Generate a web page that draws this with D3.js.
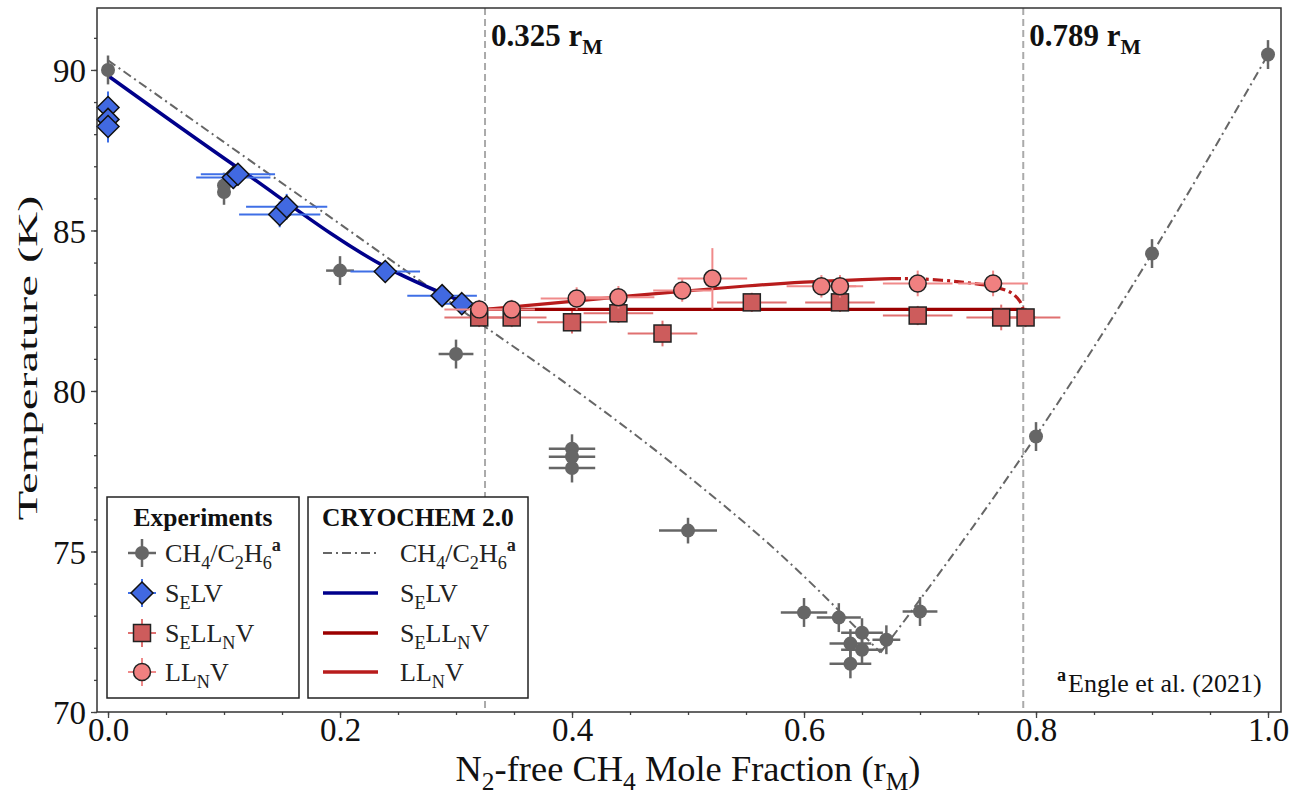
<!DOCTYPE html>
<html>
<head>
<meta charset="utf-8">
<script src="https://cdn.jsdelivr.net/npm/d3@7"></script>
<style>
  body { margin: 0; background: #fff; }
  svg { font-family: "Liberation Serif", "Times New Roman", serif; }
</style>
</head>
<body>
<svg width="1301" height="796"></svg>
<script>
// experimental points: [x, T, xerr, Terr]
const grayPts = [
  [0.0, 90.0, 0, 0.45], [0.1, 86.4, 0, 0.4], [0.1, 86.2, 0, 0.4],
  [0.2, 83.75, 0.012, 0.45], [0.3, 81.15, 0.015, 0.45],
  [0.4, 78.2, 0.02, 0.45], [0.4, 77.95, 0.02, 0.45], [0.4, 77.6, 0.02, 0.45],
  [0.5, 75.65, 0.025, 0.4], [0.6, 73.1, 0.02, 0.45], [0.63, 72.94, 0.019, 0.45],
  [0.65, 72.47, 0.018, 0.45], [0.64, 72.13, 0.018, 0.45], [0.65, 71.94, 0.018, 0.45],
  [0.671, 72.25, 0.012, 0.45], [0.64, 71.5, 0.018, 0.45], [0.70, 73.13, 0.015, 0.45],
  [0.8, 78.58, 0.005, 0.45], [0.9, 84.28, 0, 0.45], [1.0, 90.48, 0, 0.45]
];
const selvPts = [
  [0.0, 88.83, 0, 0.5], [0.0, 88.46, 0, 0.5], [0.0, 88.24, 0, 0.5],
  [0.108, 86.65, 0.032, 0.35], [0.112, 86.75, 0.032, 0.35],
  [0.148, 85.5, 0.035, 0.4], [0.154, 85.74, 0.035, 0.4],
  [0.239, 83.72, 0.03, 0.3], [0.288, 82.97, 0.03, 0.2], [0.305, 82.72, 0.02, 0.2]
];
const sellnvPts = [
  [0.320, 82.29, 0.03, 0.3], [0.348, 82.29, 0.03, 0.3], [0.40, 82.14, 0.03, 0.35],
  [0.44, 82.42, 0.03, 0.3], [0.478, 81.79, 0.03, 0.4], [0.555, 82.76, 0.03, 0.3],
  [0.631, 82.76, 0.03, 0.3], [0.698, 82.35, 0.03, 0.3], [0.770, 82.29, 0.03, 0.4],
  [0.791, 82.29, 0.03, 0.3]
];
const llnvPts = [
  [0.320, 82.54, 0.03, 0.3], [0.348, 82.54, 0.02, 0.3], [0.404, 82.88, 0.031, 0.35],
  [0.44, 82.92, 0.031, 0.35], [0.495, 83.13, 0.025, 0.35], [0.521, 83.5, 0.03, 0.95],
  [0.615, 83.26, 0.03, 0.35], [0.631, 83.26, 0.02, 0.35], [0.698, 83.35, 0.03, 0.4],
  [0.763, 83.35, 0.03, 0.4]
];

// CRYOCHEM 2.0 model curves
const grayLineLeft = [[0, 90.3], [0.1, 87.75], [0.2, 85.2], [0.325, 82.0], [0.39, 80.36], [0.493, 77.55], [0.58, 74.9], [0.666, 71.85]];
const grayLineRight = [[0.666, 71.85], [0.7, 73.5], [0.8, 78.6], [0.9, 84.28], [1.0, 90.48]];
const selvLine = [[0, 89.82], [0.11, 87.0], [0.24, 83.85], [0.325, 82.5]];
const sellnvLine = [[0.325, 82.54], [0.789, 82.54]];
const llnvLine = [[0.325, 82.54], [0.36, 82.66], [0.40, 82.79], [0.45, 82.96], [0.50, 83.12], [0.55, 83.27], [0.60, 83.39], [0.65, 83.47], [0.675, 83.5]];
const llnvMeta = [[0.675, 83.5], [0.70, 83.49], [0.734, 83.4], [0.763, 83.25], [0.778, 83.07], [0.786, 82.8], [0.789, 82.54]];

const markLines = [0.325, 0.789];
const xTicks = [0, 0.2, 0.4, 0.6, 0.8, 1.0];
const yTicks = [70, 75, 80, 85, 90];

var svg = d3.select('svg');

// plot frame in pixels
let pL = 97, pR = 1281, pT = 8, pB = 712;

let x = d3.scaleLinear().domain([-0.0095, 1.0112]).range([pL, pR]);
let y = d3.scaleLinear().domain([70, 91.93]).range([pB, pT]);

// writes text made of normal / sub / sup pieces
function rich(t, parts, size) {
    let shift = 0;
    parts.forEach(function(p) {
        let ts = t.append('tspan').text(p[0]);
        let kind = p[1] || 'n';
        let target = 0;
        if (kind == 'sub') target = 0.26 * size;
        if (kind == 'sup' || kind == 'supb') target = -0.42 * size;
        if (kind != 'n') ts.attr('font-size', size * 0.7);
        if (kind == 'supb') ts.attr('font-weight', 'bold');
        ts.attr('dy', target - shift);
        shift = target;
    });
    return t;
}

// vertical reference lines
svg.append('g').selectAll('line').data(markLines).enter().append('line')
    .attr('x1', d => x(d)).attr('x2', d => x(d))
    .attr('y1', pT).attr('y2', pB)
    .attr('stroke', '#aaa').attr('stroke-width', 2).attr('stroke-dasharray', '7,4');

// model lines
let line = d3.line().x(d => x(d[0])).y(d => y(d[1])).curve(d3.curveMonotoneX);
let dashDot = '9,4,2,4';
[grayLineLeft, grayLineRight].forEach(function(arr) {
    svg.append('path').attr('d', line(arr)).attr('fill', 'none')
        .attr('stroke', '#666').attr('stroke-width', 2).attr('stroke-dasharray', dashDot);
});
svg.append('path').attr('d', line(selvLine)).attr('fill', 'none')
    .attr('stroke', '#00008b').attr('stroke-width', 3.5);
svg.append('path').attr('d', line(sellnvLine)).attr('fill', 'none')
    .attr('stroke', '#9b0000').attr('stroke-width', 3.2);
svg.append('path').attr('d', line(llnvLine)).attr('fill', 'none')
    .attr('stroke', '#b81c1c').attr('stroke-width', 3.2);
svg.append('path').attr('d', d3.line().x(d => x(d[0])).y(d => y(d[1])).curve(d3.curveCatmullRom)(llnvMeta))
    .attr('fill', 'none').attr('stroke', '#b81c1c').attr('stroke-width', 3.2)
    .attr('stroke-dasharray', '10,4,3,4');

// error bars
function errBars(data, color, width) {
    let g = svg.append('g').attr('stroke', color).attr('stroke-width', width);
    data.forEach(function(d) {
        if (d[2] > 0) {
            g.append('line').attr('x1', x(d[0] - d[2])).attr('x2', x(d[0] + d[2]))
                .attr('y1', y(d[1])).attr('y2', y(d[1]));
        }
        if (d[3] > 0) {
            g.append('line').attr('x1', x(d[0])).attr('x2', x(d[0]))
                .attr('y1', y(d[1] - d[3])).attr('y2', y(d[1] + d[3]));
        }
    });
}

let diamond = 'M0,-11L11,0L0,11L-11,0Z';

function drawGray(g, cx, cy) {
    g.append('circle').attr('cx', cx).attr('cy', cy).attr('r', 7).attr('fill', '#666');
}
function drawDiamond(g, cx, cy) {
    g.append('path').attr('d', diamond).attr('transform', 'translate(' + cx + ',' + cy + ')')
        .attr('fill', '#4169e1').attr('stroke', '#111').attr('stroke-width', 1.5);
}
function drawSquare(g, cx, cy) {
    g.append('rect').attr('x', cx - 8.5).attr('y', cy - 8.5).attr('width', 17).attr('height', 17)
        .attr('fill', '#cd5c5c').attr('stroke', '#222').attr('stroke-width', 1.5);
}
function drawCircle(g, cx, cy) {
    g.append('circle').attr('cx', cx).attr('cy', cy).attr('r', 8.5)
        .attr('fill', '#f08080').attr('stroke', '#222').attr('stroke-width', 1.5);
}

let series = [
    {data: grayPts, color: '#666', w: 2.5, draw: drawGray},
    {data: selvPts, color: '#3f6fe6', w: 2, draw: drawDiamond},
    {data: sellnvPts, color: '#e07070', w: 2, draw: drawSquare},
    {data: llnvPts, color: '#f08a8a', w: 2, draw: drawCircle}
];
series.forEach(function(s) {
    errBars(s.data, s.color, s.w);
    let g = svg.append('g');
    s.data.forEach(d => s.draw(g, x(d[0]), y(d[1])));
});

// axes
let axisFont = 33;
let xAxis = svg.append('g').attr('transform', 'translate(0,' + pB + ')')
    .call(d3.axisBottom(x).tickValues(xTicks).tickFormat(d3.format('.1f')).tickSize(6).tickPadding(2));
svg.append('g').attr('transform', 'translate(0,' + pB + ')')
    .call(d3.axisBottom(x).tickValues(d3.range(0, 1.0001, 0.05)).tickFormat('').tickSize(3));
let yAxis = svg.append('g').attr('transform', 'translate(' + pL + ',0)')
    .call(d3.axisLeft(y).tickValues(yTicks).tickSize(6).tickPadding(5));
svg.append('g').attr('transform', 'translate(' + pL + ',0)')
    .call(d3.axisLeft(y).tickValues(d3.range(70, 92, 1)).tickFormat('').tickSize(3));
svg.selectAll('.domain').remove();
svg.selectAll('.tick line').attr('stroke', '#444').attr('stroke-width', 1.3);
svg.selectAll('.tick text').attr('font-family', '"Liberation Serif", serif')
    .attr('font-size', axisFont).attr('fill', '#111');
xAxis.selectAll('.tick text').attr('dy', '0.63em');
yAxis.selectAll('.tick text').attr('dy', '0.35em');

svg.append('rect').attr('x', pL).attr('y', pT).attr('width', pR - pL).attr('height', pB - pT)
    .attr('fill', 'none').attr('stroke', '#333').attr('stroke-width', 1.5);

// scale factor that brings a text to a given run length
function fit(t, target) {
    let w = t.node().getBBox().width;
    return target / w;
}

// x label
let xl = svg.append('g');
let xlt = rich(xl.append('text').attr('font-size', 35).attr('fill', '#111'),
    [['N'], ['2', 'sub'], ['-free CH'], ['4', 'sub'], [' Mole Fraction (r'], ['M', 'sub'], [')']], 35);
let sx = fit(xlt, 465);
xlt.attr('text-anchor', 'middle');
xl.attr('transform', 'translate(688,781) scale(' + sx + ',1)');

// y label
let yl = svg.append('g');
let ylt = yl.append('text').attr('font-size', 32).attr('fill', '#111').attr('text-anchor', 'middle')
    .text('Temperature (K)');
let sy = fit(ylt, 325);
yl.attr('transform', 'translate(37,358) rotate(-90) scale(' + sy + ',0.86)');

// composition annotations
markLines.forEach(function(v) {
    let t = svg.append('text').attr('x', x(v) + 6).attr('y', 46)
        .attr('font-size', 31).attr('font-weight', 'bold').attr('fill', '#111');
    rich(t, [[v.toFixed(3) + ' r'], ['M', 'sub']], 31);
});

// reference note
let note = svg.append('text').attr('x', 1057).attr('y', 692).attr('font-size', 26).attr('fill', '#111');
rich(note, [['a', 'supb'], ['Engle et al. (2021)']], 26);
note.selectAll('tspan').filter((d, i) => i == 1).attr('dx', 2);

// legends
const legendTitles = ['Experiments', 'CRYOCHEM 2.0'];
const legendLabels = [
    [['CH'], ['4', 'sub'], ['/C'], ['2', 'sub'], ['H'], ['6', 'sub'], ['a', 'supb']],
    [['S'], ['E', 'sub'], ['LV']],
    [['S'], ['E', 'sub'], ['LL'], ['N', 'sub'], ['V']],
    [['LL'], ['N', 'sub'], ['V']]
];
let rowY = [562, 602, 642, 681];
let boxes = [{x: 107, w: 192}, {x: 308, w: 220}];
let legFont = 26;

boxes.forEach(function(b, k) {
    svg.append('rect').attr('x', b.x).attr('y', 497).attr('width', b.w).attr('height', 201)
        .attr('fill', 'white').attr('stroke', '#222').attr('stroke-width', 1.5);
    svg.append('text').attr('x', b.x + b.w / 2).attr('y', 526).attr('text-anchor', 'middle')
        .attr('font-size', 25.5).attr('font-weight', 'bold').attr('fill', '#111').text(legendTitles[k]);
    legendLabels.forEach(function(lab, i) {
        let t = svg.append('text').attr('x', k == 0 ? b.x + 58 : b.x + 92).attr('y', rowY[i])
            .attr('font-size', legFont).attr('fill', '#222');
        rich(t, lab, legFont);
    });
});

// experiment legend markers
let lg = svg.append('g');
let mx = 142;
series.forEach(function(s, i) {
    let cy = rowY[i] - 9;
    lg.append('line').attr('x1', mx - 14).attr('x2', mx + 14).attr('y1', cy).attr('y2', cy)
        .attr('stroke', s.color).attr('stroke-width', s.w);
    lg.append('line').attr('x1', mx).attr('x2', mx).attr('y1', cy - 14).attr('y2', cy + 14)
        .attr('stroke', s.color).attr('stroke-width', s.w);
    s.draw(lg, mx, cy);
});

// model legend lines
let modelStyles = [
    {c: '#666', w: 2, dash: '9,4,2,4'},
    {c: '#00008b', w: 3.5, dash: null},
    {c: '#9b0000', w: 3.5, dash: null},
    {c: '#b81c1c', w: 3.5, dash: null}
];
modelStyles.forEach(function(m, i) {
    let cy = rowY[i] - 9;
    lg.append('line').attr('x1', 323).attr('x2', 378).attr('y1', cy).attr('y2', cy)
        .attr('stroke', m.c).attr('stroke-width', m.w).attr('stroke-dasharray', m.dash);
});
</script>
</body>
</html>
